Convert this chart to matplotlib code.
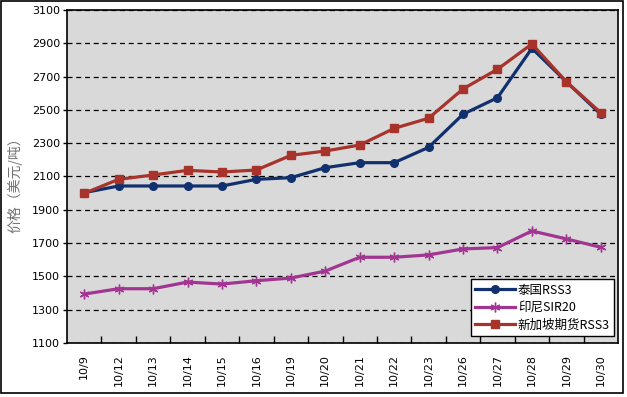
import matplotlib
matplotlib.use("Agg")
import matplotlib.pyplot as plt
from matplotlib.patches import Rectangle

plt.rcParams['font.family'] = ['Noto Sans CJK SC', 'DejaVu Sans']

dates = ["10/9", "10/12", "10/13", "10/14", "10/15", "10/16", "10/19", "10/20",
         "10/21", "10/22", "10/23", "10/26", "10/27", "10/28", "10/29", "10/30"]
thai_rss3 = [2003, 2043, 2043, 2043, 2043, 2083, 2093, 2153,
             2183, 2183, 2275, 2474, 2573, 2870, 2669, 2474]
indo_sir20 = [1394, 1426, 1426, 1466, 1454, 1474, 1490, 1532,
              1615, 1615, 1629, 1665, 1673, 1773, 1725, 1675]
sgx_rss3 = [1999, 2083, 2109, 2137, 2127, 2139, 2227, 2253,
            2289, 2389, 2450, 2626, 2744, 2896, 2669, 2483]
series_names = ["泰国RSS3", "印尼SIR20", "新加坡期货RSS3"]
y_ticks = [1100, 1300, 1500, 1700, 1900, 2100, 2300, 2500, 2700, 2900, 3100]
y_label = "价格（美元/吨）"

fig = plt.figure(figsize=(6.27, 3.97), dpi=100)
fig.patches.append(Rectangle((1/627, 4/397), 622/627, 392/397, transform=fig.transFigure,
                             fill=False, edgecolor='black', linewidth=1.2))
ax = fig.add_axes([67/627, 1 - 343/397, 551/627, 333/397])
ax.set_facecolor('#D9D9D9')

x = list(range(len(dates)))
ax.plot(x, thai_rss3, color='#10306E', linewidth=2.3, marker='o', markersize=5.5,
        label=series_names[0], zorder=3)
ax.plot(x, indo_sir20, color='#A23592', linewidth=2.3, marker=(6, 2, 0), markersize=7,
        markeredgewidth=1.0, label=series_names[1], zorder=3)
ax.plot(x, sgx_rss3, color='#A8332B', linewidth=2.3, marker='s', markersize=5.5,
        label=series_names[2], zorder=4)

ax.set_xlim(-0.5, len(dates) - 0.5)
ax.set_ylim(1100, 3100)
ax.set_yticks(y_ticks)
ax.set_yticklabels([str(v) for v in y_ticks], fontsize=8, family='DejaVu Sans')
ax.yaxis.grid(True, linestyle=(0, (4, 3)), color='black', linewidth=0.9)
ax.set_axisbelow(True)

ax.set_xticks(x)
ax.set_xticklabels(dates, rotation=90, fontsize=8, family='DejaVu Sans')
ax.set_xticks([i + 0.5 for i in x[:-1]], minor=True)
ax.tick_params(axis='x', which='major', length=0, pad=8)
ax.tick_params(axis='x', which='minor', direction='in', length=5, width=1)
ax.tick_params(axis='y', direction='out', length=3, width=1, pad=2)

for s in ax.spines.values():
    s.set_linewidth(1.2)
    s.set_color('black')

fig.text(15/627, 1 - 182/397, y_label, fontsize=10, color='#707070',
         rotation=90, ha='center', va='center')

leg = ax.legend(loc='lower right', bbox_to_anchor=(0.9935, 0.022), fontsize=9,
                frameon=True, fancybox=False, edgecolor='black', framealpha=1,
                handlelength=3.2, borderpad=0.35, labelspacing=0.35, handletextpad=0.2,
                borderaxespad=0)
leg.get_frame().set_linewidth(1.0)

fig.savefig("out.png", dpi=100)
